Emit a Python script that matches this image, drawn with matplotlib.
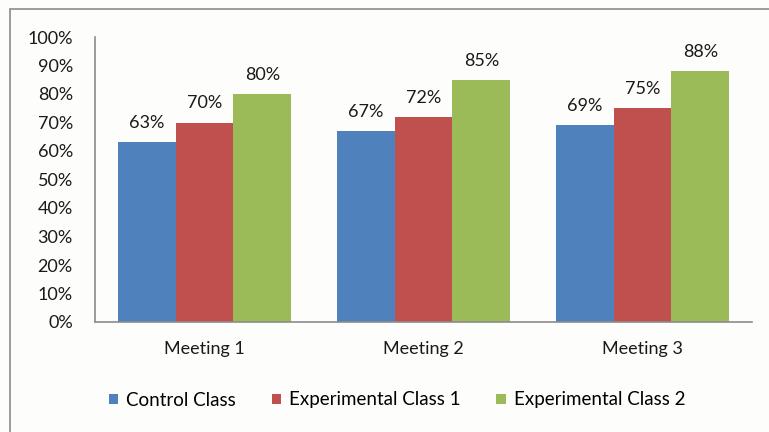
#!/usr/bin/env python3
import matplotlib
matplotlib.use('Agg')
import matplotlib.pyplot as plt
from matplotlib.patches import Rectangle
import numpy as np

meetings = ['Meeting 1', 'Meeting 2', 'Meeting 3']
control = [0.63, 0.67, 0.69]
experimental_1 = [0.70, 0.72, 0.75]
experimental_2 = [0.80, 0.85, 0.88]
series_names = ['Control Class', 'Experimental Class 1', 'Experimental Class 2']
y_ticks = np.arange(0, 1.01, 0.1)

plt.rcParams['font.family'] = ['Lato', 'DejaVu Sans']

fig = plt.figure(figsize=(7.69, 4.32), dpi=100)
fig.patch.set_facecolor('#fdfdfb')

# outer chart border (right and bottom run off the picture)
fig.add_artist(Rectangle((10 / 769, -0.05), 1.1, 1 - 9 / 432 + 0.05,
                         transform=fig.transFigure, fill=False,
                         edgecolor='#8c8c8c', linewidth=1.2))

ax = fig.add_axes([95 / 769, 110 / 432, (752 - 95) / 769, (322 - 37) / 432])
ax.set_facecolor('none')

colors = ['#4f81bd', '#c0504d', '#9bbb59']
bar_width = 0.264
x = np.arange(len(meetings))
for i, (vals, name) in enumerate(zip([control, experimental_1, experimental_2], series_names)):
    pos = x + (i - 1) * bar_width
    ax.bar(pos, vals, width=bar_width, color=colors[i], label=name)
    for px, v in zip(pos, vals):
        ax.annotate(f'{round(v * 100)}%', (px, v), xytext=(0, 8),
                    textcoords='offset points', ha='center', va='bottom',
                    fontsize=13, color='#1a1a1a')

ax.set_xlim(-0.5, 2.5)
ax.set_ylim(0, 1)
ax.set_yticks(y_ticks)
ax.set_yticklabels([f'{round(t * 100)}%' for t in y_ticks])
ax.set_xticks(x)
ax.set_xticklabels(meetings)
ax.tick_params(axis='both', length=0, labelsize=13, colors='#1a1a1a')
ax.tick_params(axis='y', pad=16)
ax.tick_params(axis='x', pad=14)
for side in ['top', 'right']:
    ax.spines[side].set_visible(False)
for side in ['left', 'bottom']:
    ax.spines[side].set_color('#8c8c8c')
    ax.spines[side].set_linewidth(1.2)

handles, labels = ax.get_legend_handles_labels()
fig.legend(handles, labels, loc='center', bbox_to_anchor=(397 / 769, 1 - 400 / 432),
           ncol=3, frameon=False, fontsize=13.5, handlelength=0.5, handleheight=0.5,
           handletextpad=0.43, columnspacing=1.9)

fig.savefig('out.png', dpi=100, facecolor=fig.get_facecolor())
